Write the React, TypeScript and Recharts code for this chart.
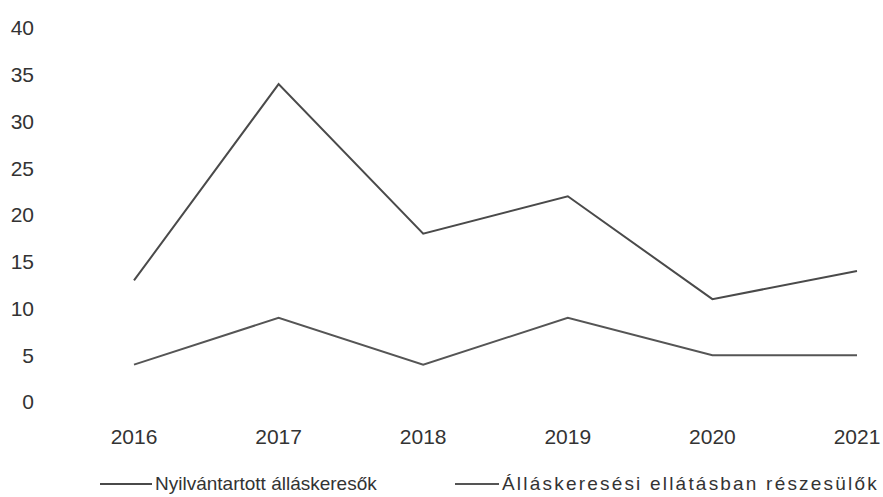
import { LineChart, Line, XAxis, YAxis, Legend } from 'recharts';

// Nyilvántartott álláskeresők vs. Álláskeresési ellátásban részesülők, 2016–2021
const years = ['2016', '2017', '2018', '2019', '2020', '2021'];
const registered = [13, 34, 18, 22, 11, 14];
const benefit = [4, 9, 4, 9, 5, 5];
const yTicks = [0, 5, 10, 15, 20, 25, 30, 35, 40];

const SERIES = [
  { key: 'registered', name: 'Nyilvántartott álláskeresők', color: '#4a4a4a', swatch: 52, left: 100, spacing: 0 },
  { key: 'benefit', name: 'Álláskeresési ellátásban részesülők', color: '#555555', swatch: 44, left: 455, spacing: 2.2 },
];

const data = years.map((year, i) => ({
  year,
  registered: registered[i],
  benefit: benefit[i],
}));

const FONT = '"Liberation Sans", Arial, sans-serif';

function LegendContent() {
  return (
    <div style={{ position: 'relative', height: 30, fontFamily: FONT, fontSize: 19, color: '#333' }}>
      {SERIES.map((s) => (
        <div
          key={s.key}
          style={{
            position: 'absolute',
            left: s.left,
            top: 3,
            display: 'flex',
            alignItems: 'center',
            whiteSpace: 'nowrap',
            height: 30,
          }}
        >
          <span
            style={{
              display: 'inline-block',
              width: s.swatch,
              height: 0,
              borderTop: `2px solid ${s.color}`,
              marginRight: 3,
            }}
          />
          <span style={{ letterSpacing: s.spacing }}>{s.name}</span>
        </div>
      ))}
    </div>
  );
}

export default function App() {
  return (
    <div style={{ position: 'absolute', left: 0, top: 0, background: '#fff' }}>
      <LineChart
        width={883}
        height={497}
        data={data}
        margin={{ top: 28, right: 26, left: 0, bottom: 0 }}
      >
        <XAxis
          dataKey="year"
          axisLine={false}
          tickLine={false}
          tickSize={0}
          tickMargin={27}
          height={64}
          padding={{ left: 100, right: 0 }}
          tick={{ fontFamily: FONT, fontSize: 21, fill: '#333' }}
        />
        <YAxis
          domain={[0, 40]}
          ticks={yTicks}
          axisLine={false}
          tickLine={false}
          tickSize={0}
          tickMargin={0}
          width={34}
          tick={{ fontFamily: FONT, fontSize: 21, fill: '#333' }}
        />
        <Legend verticalAlign="bottom" height={31} content={<LegendContent />} />
        {SERIES.map((s) => (
          <Line
            key={s.key}
            type="linear"
            dataKey={s.key}
            name={s.name}
            stroke={s.color}
            strokeWidth={2}
            dot={false}
            activeDot={false}
            isAnimationActive={false}
          />
        ))}
      </LineChart>
    </div>
  );
}
